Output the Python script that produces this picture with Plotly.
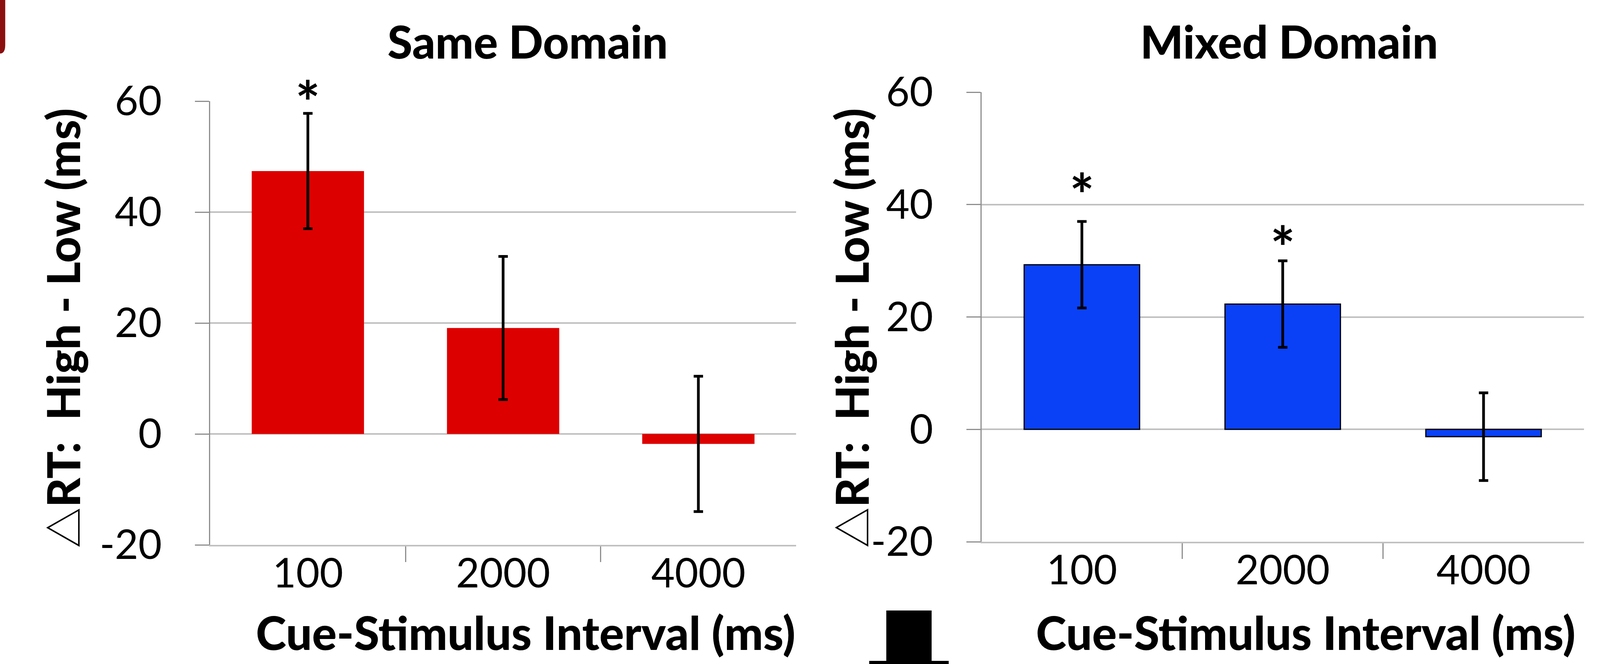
import plotly.graph_objects as go

# ---------------- data ----------------
intervals = ["100", "2000", "4000"]

same_mean = [47.4, 19.1, -1.8]
same_err = [10.4, 12.9, 12.2]

mixed_mean = [29.3, 22.3, -1.3]
mixed_err = [7.7, 7.7, 7.8]

# significance markers: category index and height of the star
same_sig_idx = [0]
same_sig_y = [63.7]
mixed_sig_idx = [0, 1]
mixed_sig_y = [45.6, 36.2]

panel_titles = ["Same Domain", "Mixed Domain"]
x_title = "Cue-Stimulus Interval (ms)"
y_title_symbol = "△"
y_title = "RT:\u00a0 High - Low (ms)"
y_range = [-20, 60]
y_ticks = [-20, 0, 20, 40, 60]
y_ticktext = ["-20", "0", "20", "40", "60"]

# ---------------- geometry / style ----------------
W, H = 4096, 1700          # browser viewport
RW = 4589                  # reference width used for proportional placement
def fx(px):
    return px / RW
def fy(py):
    return 1 - py / H

SANS = "Lato, DejaVu Sans, sans-serif"
RED = "#DD0000"
BLUE = "#0A41F7"
GRID = "#C0C0C0"
AXIS = "#8E8E8E"
STAR_SIZE = 150

xpos = list(range(len(intervals)))

fig = go.Figure()

fig.add_trace(go.Bar(
    x=xpos, y=same_mean, width=0.575,
    marker=dict(color=RED, line=dict(width=0)),
    error_y=dict(type="data", array=same_err, visible=True,
                 color="black", thickness=7, width=12),
    xaxis="x", yaxis="y", showlegend=False, hoverinfo="skip",
))
fig.add_trace(go.Bar(
    x=xpos, y=mixed_mean, width=0.575,
    marker=dict(color=BLUE, line=dict(width=3, color="black")),
    error_y=dict(type="data", array=mixed_err, visible=True,
                 color="black", thickness=7, width=12),
    xaxis="x2", yaxis="y2", showlegend=False, hoverinfo="skip",
))

def xaxis_cfg(domain, anchor):
    return dict(
        domain=domain, range=[-0.5, 2.5], anchor=anchor,
        tickmode="array", tickvals=xpos, ticktext=intervals,
        ticks="", showgrid=False, zeroline=False,
        showline=True, linecolor=GRID, linewidth=4,
        tickfont=dict(family=SANS, size=104, color="black"),
        ticklabelstandoff=-20,
        minor=dict(tickmode="array", tickvals=[0.5, 1.5], ticks="outside",
                   ticklen=40, tickcolor=AXIS, tickwidth=3, showgrid=False),
        fixedrange=True, automargin=False,
    )

def yaxis_cfg(domain, anchor):
    return dict(
        domain=domain, range=y_range, anchor=anchor,
        tickmode="array", tickvals=y_ticks, ticktext=y_ticktext,
        ticks="outside", ticklen=36, tickcolor=AXIS, tickwidth=3,
        showgrid=True, gridcolor=GRID, gridwidth=4,
        zeroline=False, showline=True, linecolor=AXIS, linewidth=3,
        tickfont=dict(family=SANS, size=104, color="black"),
        ticklabelstandoff=64,
        fixedrange=True, automargin=False,
    )

fig.update_layout(
    width=W, height=H, autosize=False,
    margin=dict(l=0, r=0, t=0, b=0),
    paper_bgcolor="white", plot_bgcolor="white",
    barmode="overlay",
    xaxis=xaxis_cfg([fx(603), fx(2283)], "y"),
    yaxis=yaxis_cfg([fy(1395), fy(259)], "x"),
    xaxis2=xaxis_cfg([fx(2815), fx(4543)], "y2"),
    yaxis2=yaxis_cfg([fy(1387), fy(236)], "x2"),
)

def to_domain(v):
    return (v - y_range[0]) / (y_range[1] - y_range[0])

ann = []
# significance stars
for idxs, ys, xr, yr in [(same_sig_idx, same_sig_y, "x", "y domain"),
                         (mixed_sig_idx, mixed_sig_y, "x2", "y2 domain")]:
    for i, v in zip(idxs, ys):
        ann.append(dict(text="*", x=xpos[i], y=to_domain(v), xref=xr, yref=yr,
                        xanchor="center", yanchor="middle", yshift=-0.36 * STAR_SIZE,
                        showarrow=False,
                        font=dict(family=SANS, size=STAR_SIZE, color="black", weight=700)))
for txt, xc in zip(panel_titles, [fx(1514), fx(3697)]):
    ann.append(dict(text=txt, x=xc, y=fy(105),
                    xref="paper", yref="paper", xanchor="center", yanchor="middle",
                    showarrow=False,
                    font=dict(family=SANS, size=116, color="black", weight=900)))
for xc in [fx(1507), fx(3745)]:
    ann.append(dict(text=x_title, x=xc, y=fy(1618),
                    xref="paper", yref="paper", xanchor="center", yanchor="middle",
                    showarrow=False,
                    font=dict(family=SANS, size=118, color="black", weight=900)))
ytxt = ('<span style="font-family:Noto Sans CJK JP;font-weight:normal;font-size:104px">' +
        y_title_symbol + "</span><span style=\"font-weight:900\">" + y_title + "</span>")
for xc in [fx(178), fx(2440)]:
    ann.append(dict(text=ytxt, x=xc, y=fy(840), textangle=-90,
                    xref="paper", yref="paper", xanchor="center", yanchor="middle",
                    showarrow=False,
                    font=dict(family=SANS, size=116, color="black")))
fig.update_layout(annotations=ann)

# slide remnants around the chart
fig.update_layout(shapes=[
    dict(type="path", xref="paper", yref="paper",
         path="M 0 1 L %f 1 L %f %f Q %f %f 0 %f Z" % (
             fx(15), fx(15), fy(115), fx(15), fy(137), fy(137)),
         fillcolor="#8C0F0F", line=dict(width=0)),
    dict(type="rect", xref="paper", yref="paper", x0=fx(2542), x1=fx(2672), y0=0, y1=fy(1563),
         fillcolor="black", line=dict(width=0)),
    dict(type="rect", xref="paper", yref="paper", x0=fx(2493), x1=fx(2721), y0=0, y1=fy(1692),
         fillcolor="black", line=dict(width=0)),
])

fig.write_html("out.html", config={"displayModeBar": False},
               post_script="document.body.style.margin='0';document.body.style.overflow='hidden';")
